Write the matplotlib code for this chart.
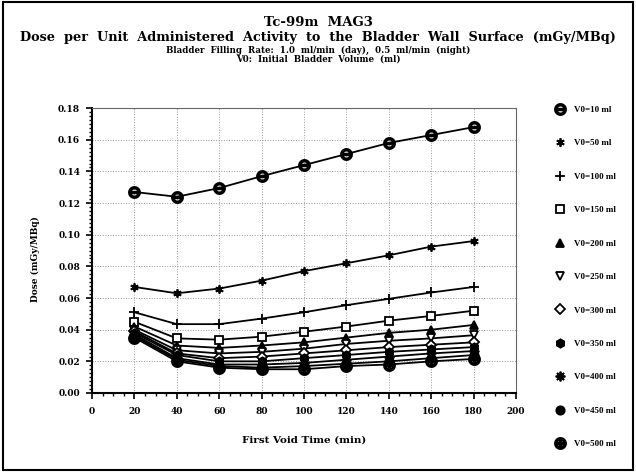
import matplotlib
matplotlib.use("Agg")
import matplotlib.pyplot as plt
from matplotlib.lines import Line2D
from matplotlib.patches import Rectangle
from matplotlib.ticker import MultipleLocator

plt.rcParams["font.family"] = ["DejaVu Serif", "Liberation Serif"]
plt.rcParams["font.weight"] = "bold"

# ── data ───────────────────────────────────────────────────
void_time = [20, 40, 60, 80, 100, 120, 140, 160, 180]

v0_labels = ["V0=10 ml", "V0=50 ml", "V0=100 ml", "V0=150 ml", "V0=200 ml",
             "V0=250 ml", "V0=300 ml", "V0=350 ml", "V0=400 ml", "V0=450 ml",
             "V0=500 ml"]

dose_v10  = [0.127, 0.124, 0.1295, 0.137, 0.144, 0.151, 0.158, 0.163, 0.168]
dose_v50  = [0.067, 0.063, 0.066, 0.071, 0.077, 0.082, 0.087, 0.0925, 0.096]
dose_v100 = [0.051, 0.0435, 0.0435, 0.047, 0.051, 0.0555, 0.0595, 0.0635, 0.067]
dose_v150 = [0.045, 0.0345, 0.0337, 0.0356, 0.0387, 0.042, 0.0457, 0.0487, 0.052]
dose_v200 = [0.042, 0.030, 0.0285, 0.030, 0.032, 0.035, 0.038, 0.040, 0.043]
dose_v250 = [0.040, 0.027, 0.025, 0.026, 0.028, 0.031, 0.033, 0.0345, 0.0365]
dose_v300 = [0.039, 0.025, 0.022, 0.023, 0.025, 0.027, 0.029, 0.0305, 0.032]
dose_v350 = [0.038, 0.024, 0.020, 0.020, 0.022, 0.024, 0.026, 0.0275, 0.029]
dose_v400 = [0.037, 0.022, 0.018, 0.018, 0.019, 0.021, 0.023, 0.025, 0.0265]
dose_v450 = [0.036, 0.021, 0.017, 0.016, 0.017, 0.0185, 0.020, 0.022, 0.024]
dose_v500 = [0.035, 0.020, 0.016, 0.015, 0.015, 0.017, 0.018, 0.020, 0.0215]

series = [dose_v10, dose_v50, dose_v100, dose_v150, dose_v200, dose_v250,
          dose_v300, dose_v350, dose_v400, dose_v450, dose_v500]

# marker, filled?
markers = [(r"$\ominus$", True), ((6, 2, 0), True), ("+", True), ("s", False),
           ("^", True), ("v", False), ("D", False), ("h", True),
           ((8, 2, 0), True), ("o", True), (r"$\oplus$", True)]
msizes = [8, 6, 7, 5.5, 5.5, 5.5, 5, 6, 7, 6, 8]

# ── figure ─────────────────────────────────────────────────
fig = plt.figure(figsize=(6.36, 4.72), dpi=100)
fig.patches.append(Rectangle((0.005, 0.005), 0.99, 0.99, transform=fig.transFigure,
                             fill=False, edgecolor="black", linewidth=1.5))

ax = fig.add_axes([0.1447, 0.1674, 0.6667, 0.6035])

handles = []
for vals, (mk, filled), ms, lab in zip(series, markers, msizes, v0_labels):
    kw = dict(marker=mk, markersize=ms, color="black", markeredgewidth=1.3,
              markerfacecolor="black" if filled else "white")
    ax.plot(void_time, vals, linewidth=1.3, **kw)
    handles.append(Line2D([], [], linestyle="none", label=lab, **kw))

ax.set_xlim(0, 200)
ax.set_ylim(0, 0.18)
ax.xaxis.set_major_locator(MultipleLocator(20))
ax.xaxis.set_minor_locator(MultipleLocator(5))
ax.yaxis.set_major_locator(MultipleLocator(0.02))
ax.yaxis.set_minor_locator(MultipleLocator(0.0025))
ax.yaxis.set_major_formatter(lambda v, p: f"{v:.2f}")
ax.tick_params(which="major", length=4, width=1.2, labelsize=6.5, direction="out")
ax.tick_params(axis="x", which="major", pad=6)
ax.tick_params(axis="y", which="major", pad=4.5)
ax.tick_params(which="minor", length=2.5, width=1.0, direction="out")
ax.grid(True, which="major", linestyle=":", color="#999999", linewidth=0.7)

for side in ("left", "bottom"):
    ax.spines[side].set_linewidth(1.5)
for side in ("top", "right"):
    ax.spines[side].set_linewidth(0.8)
    ax.spines[side].set_color("#666666")

ax.set_xlabel("First Void Time (min)", fontsize=7.5, fontweight="bold", labelpad=14)
ax.set_ylabel("Dose (mGy/MBq)", fontsize=6.5, fontweight="bold")
ax.yaxis.set_label_coords(-0.123, 0.47)

# titles: (text, centre y in px from top, target width in px, max size)
# the scanned original is letter-spaced, so words are set two spaces apart
title_lines = [
    ("Tc-99m  MAG3", 23, 115, 9.5),
    ("Dose  per  Unit  Administered  Activity  to  the  Bladder  Wall  Surface  (mGy/MBq)",
     38, 595, 9.5),
    ("Bladder  Filling  Rate:  1.0  ml/min  (day),  0.5  ml/min  (night)", 50, 350, 6.2),
    ("V0:  Initial  Bladder  Volume  (ml)", 59.5, 180, 6.2),
]
fig.canvas.draw()
renderer = fig.canvas.get_renderer()
for txt, ypx, wpx, fs in title_lines:
    t = fig.text(0.5, 1 - ypx / 472, txt, ha="center", va="center",
                 fontsize=fs, fontweight="bold")
    w = t.get_window_extent(renderer).width
    t.set_fontsize(min(fs, fs * wpx / w))

fig.legend(handles=handles, loc="upper left", bbox_to_anchor=(0.868, 0.7836),
           frameon=False, prop={"family": "Liberation Serif", "weight": "bold", "size": 6.5},
           labelspacing=2.78, handlelength=1.0, handletextpad=1.0, borderaxespad=0)

fig.savefig("out.png", dpi=100)
